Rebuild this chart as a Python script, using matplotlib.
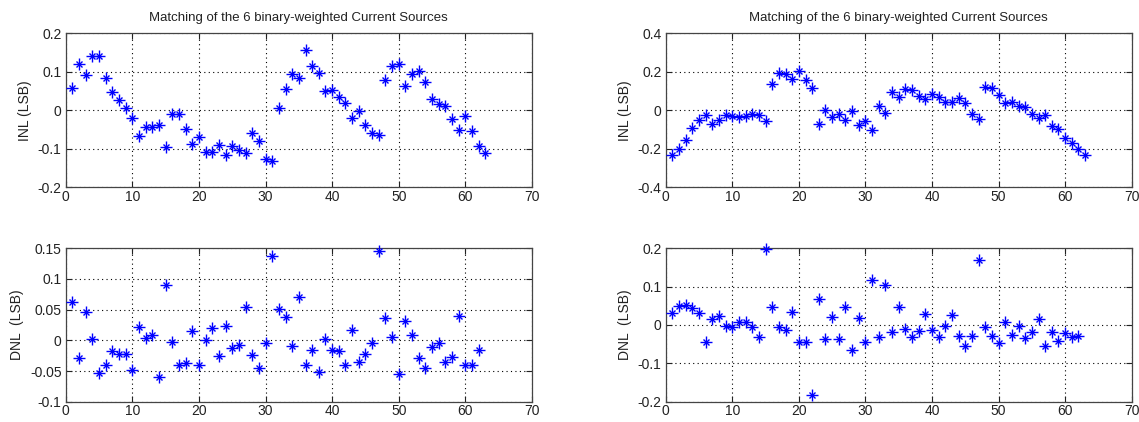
import numpy as np
import matplotlib
matplotlib.use("Agg")
import matplotlib.pyplot as plt

plt.rcParams['font.family'] = ['Liberation Sans', 'DejaVu Sans']

title_text = "Matching of the 6 binary-weighted Current Sources"

# Code index for INL (1..63) and DNL (1..62)
codes_inl = np.arange(1, 64)
codes_dnl = np.arange(1, 63)

inl_a = [0.059, 0.120, 0.092, 0.140, 0.140, 0.085, 0.047, 0.028, 0.005, -0.019,
         -0.068, -0.044, -0.044, -0.037, -0.096, -0.009, -0.010, -0.049, -0.087, -0.070,
         -0.109, -0.109, -0.089, -0.115, -0.093, -0.103, -0.112, -0.059, -0.081, -0.126,
         -0.132, 0.007, 0.056, 0.095, 0.084, 0.156, 0.114, 0.098, 0.050, 0.052,
         0.035, 0.019, -0.020, -0.002, -0.039, -0.059, -0.065, 0.078, 0.114, 0.119,
         0.064, 0.095, 0.102, 0.074, 0.029, 0.017, 0.010, -0.022, -0.050, -0.014,
         -0.054, -0.094, -0.110]

dnl_a = [0.062, -0.028, 0.047, 0.002, -0.054, -0.040, -0.018, -0.022, -0.023, -0.048,
         0.021, 0.003, 0.008, -0.060, 0.090, -0.003, -0.041, -0.037, 0.016, -0.040,
         0.001, 0.020, -0.026, 0.023, -0.012, -0.008, 0.055, -0.024, -0.045, -0.005,
         0.137, 0.051, 0.038, -0.010, 0.070, -0.041, -0.015, -0.051, 0.002, -0.015,
         -0.017, -0.041, 0.017, -0.035, -0.022, -0.005, 0.145, 0.036, 0.006, -0.055,
         0.032, 0.008, -0.029, -0.045, -0.011, -0.005, -0.035, -0.027, 0.039, -0.040,
         -0.041, -0.015]

inl_b = [-0.230, -0.201, -0.152, -0.094, -0.048, -0.023, -0.069, -0.048, -0.023, -0.029,
         -0.035, -0.031, -0.017, -0.023, -0.057, 0.139, 0.194, 0.190, 0.164, 0.203,
         0.159, 0.116, -0.069, 0.003, -0.035, -0.017, -0.052, -0.005, -0.076, -0.055,
         -0.100, 0.021, -0.014, 0.095, 0.069, 0.113, 0.104, 0.074, 0.059, 0.087,
         0.069, 0.043, 0.043, 0.066, 0.038, -0.017, -0.043, 0.121, 0.118, 0.081,
         0.038, 0.043, 0.021, 0.017, -0.017, -0.038, -0.026, -0.080, -0.099, -0.144,
         -0.168, -0.199, -0.230]

dnl_b = [0.031, 0.050, 0.052, 0.044, 0.031, -0.045, 0.016, 0.024, -0.003, -0.006,
         0.007, 0.009, -0.004, -0.032, 0.198, 0.048, -0.004, -0.013, 0.033, -0.045,
         -0.045, -0.182, 0.068, -0.037, 0.020, -0.037, 0.048, -0.065, 0.017, -0.045,
         0.118, -0.030, 0.104, -0.017, 0.046, -0.010, -0.032, -0.015, 0.029, -0.013,
         -0.030, -0.002, 0.026, -0.028, -0.056, -0.028, 0.170, -0.006, -0.028, -0.048,
         0.009, -0.025, -0.002, -0.035, -0.017, 0.016, -0.056, -0.017, -0.043, -0.021,
         -0.032, -0.028]

x_ticks = [0, 10, 20, 30, 40, 50, 60, 70]
inl_a_ticks = [-0.2, -0.1, 0, 0.1, 0.2]
dnl_a_ticks = [-0.1, -0.05, 0, 0.05, 0.1, 0.15]
inl_b_ticks = [-0.4, -0.2, 0, 0.2, 0.4]
dnl_b_ticks = [-0.2, -0.1, 0, 0.1, 0.2]

fig = plt.figure(figsize=(11.39, 4.22), dpi=100)
W, H = 1139, 422

def make_axes(x0, x1, y0, y1):
    return fig.add_axes([x0 / W, 1 - y1 / H, (x1 - x0) / W, (y1 - y0) / H])

def fmt(v):
    if v == 0:
        return "0"
    return ("%g" % v)

def style(ax, xs, ys, yticks, ylabel, title=None):
    # asterisk marker: a '+' with an 'x' laid over it
    ax.plot(xs, ys, linestyle='none', marker='+', color='#0000ff',
            markersize=8, markeredgewidth=1.0, clip_on=False, zorder=3)
    ax.plot(xs, ys, linestyle='none', marker='x', color='#0000ff',
            markersize=5, markeredgewidth=1.0, clip_on=False, zorder=3)
    ax.set_xlim(0, 70)
    ax.set_ylim(yticks[0], yticks[-1])
    ax.set_xticks(x_ticks)
    ax.set_yticks(yticks)
    ax.set_yticklabels([fmt(v) for v in yticks])
    ax.tick_params(direction='in', length=4, width=0.8, labelsize=10,
                   colors='#222222', top=True, right=True, pad=3)
    ax.tick_params(axis='x', pad=2)
    ax.grid(True, linestyle=(0, (1, 3)), color='black', linewidth=0.8)
    for s in ax.spines.values():
        s.set_color('#444444')
        s.set_linewidth(0.9)
    ax.set_ylabel(ylabel, fontsize=10, color='#222222', labelpad=4)
    if title:
        ax.set_title(title, fontsize=9.5, color='#222222', pad=9)

ax1 = make_axes(65.7, 532.0, 33.3, 187.3)
style(ax1, codes_inl, inl_a, inl_a_ticks, "INL (LSB)", title_text)

ax2 = make_axes(65.7, 532.0, 248.3, 401.7)
style(ax2, codes_dnl, dnl_a, dnl_a_ticks, "DNL  (LSB)")

ax3 = make_axes(665.7, 1131.7, 33.3, 187.3)
style(ax3, codes_inl, inl_b, inl_b_ticks, "INL (LSB)", title_text)

ax4 = make_axes(665.7, 1131.7, 248.3, 401.7)
style(ax4, codes_dnl, dnl_b, dnl_b_ticks, "DNL  (LSB)")

fig.savefig("out.png", dpi=100, facecolor='white')
